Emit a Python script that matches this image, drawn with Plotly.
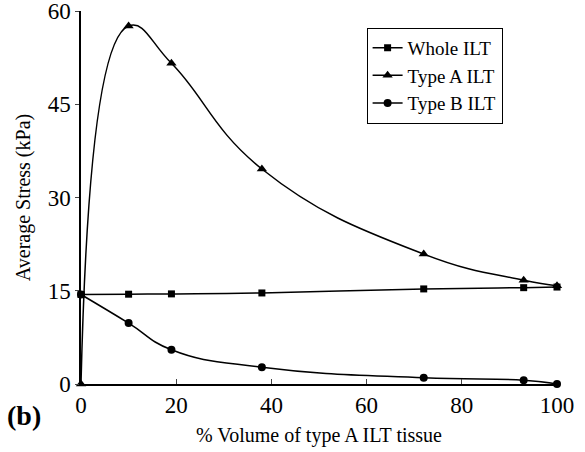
import plotly.graph_objects as go

x_vals = [0, 10, 19, 38, 72, 93, 100]
whole_ilt = [14.4, 14.45, 14.5, 14.65, 15.3, 15.5, 15.6]
type_a_ilt = [0, 57.6, 51.6, 34.6, 20.9, 16.7, 15.8]
type_b_ilt = [14.4, 9.8, 5.5, 2.7, 1.0, 0.6, 0.0]

x_ticks = [0, 20, 40, 60, 80, 100]
y_ticks = [0, 15, 30, 45, 60]

font_fam = "'Times New Roman', 'Liberation Serif', serif"

fig = go.Figure()
series = [("Whole ILT", whole_ilt, "square", 7),
          ("Type A ILT", type_a_ilt, "triangle-up", 9),
          ("Type B ILT", type_b_ilt, "circle", 8)]
for name, ys, sym, sz in series:
    fig.add_trace(go.Scatter(
        x=x_vals, y=ys, name=name, mode="lines+markers",
        line=dict(color="black", width=1.5, shape="spline", smoothing=1.3),
        marker=dict(symbol=sym, size=sz, color="black"),
        cliponaxis=False,
    ))

fig.update_layout(
    width=585, height=452,
    margin=dict(l=81, r=28, t=11, b=68, autoexpand=False),
    paper_bgcolor="white", plot_bgcolor="white",
    font=dict(family=font_fam, color="black", size=20),
    showlegend=True,
    legend=dict(x=0.6, y=0.955, xanchor="left", yanchor="top",
                bordercolor="black", borderwidth=1, bgcolor="white",
                font=dict(size=19, family=font_fam), tracegroupgap=0,
                itemwidth=30),
    xaxis=dict(range=[0, 100], tickvals=x_ticks, ticks="inside", ticklen=5,
               showline=True, linecolor="black", linewidth=1.5, showgrid=False,
               zeroline=False, tickfont=dict(size=23, family=font_fam),
               automargin=False,
               title=dict(text="% Volume of type A ILT tissue", font=dict(size=20, family=font_fam), standoff=11)),
    yaxis=dict(range=[0, 60.02], tickvals=y_ticks, ticks="outside", ticklen=4,
               showline=True, linecolor="black", linewidth=1.5, showgrid=False,
               zeroline=False, tickfont=dict(size=23, family=font_fam),
               automargin=False, ticklabeloverflow="allow",
               title=dict(text="Average Stress (kPa)", font=dict(size=20, family=font_fam), standoff=12)),
)

fig.add_annotation(text="<b>(b)</b>", xref="paper", yref="paper", x=-0.16, y=-0.085,
                   xanchor="left", yanchor="middle", showarrow=False,
                   font=dict(size=28, family=font_fam))

fig.write_html("out.html")
